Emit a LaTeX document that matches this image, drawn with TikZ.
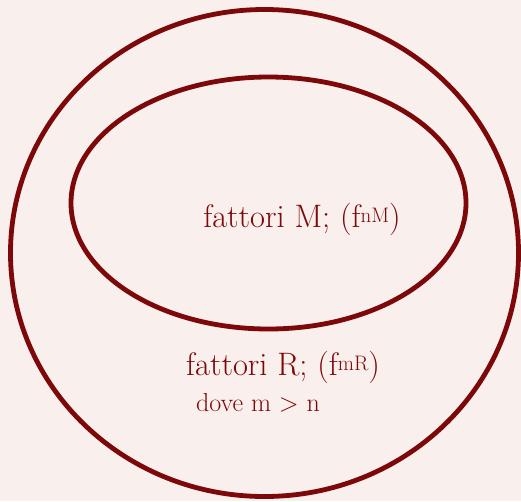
\documentclass[tikz,border=0pt]{standalone}
\usepackage{tikz}
\usetikzlibrary{shapes.geometric}
\definecolor{ringred}{RGB}{125,8,10}
\definecolor{bgpink}{RGB}{249,239,236}
\tikzset{
  ring/.style={draw=ringred, line width=4.8pt},
  label/.style={text=ringred, font=\fontsize{32.5}{36}\selectfont, inner sep=0pt, anchor=base},
  sublabel/.style={text=ringred, font=\fontsize{26}{30}\selectfont, inner sep=0pt, anchor=base}
}
\newcommand{\supx}[1]{\raisebox{5pt}{\fontsize{21}{24}\selectfont #1}}
\begin{document}
\begin{tikzpicture}[x=1pt,y=-1pt]
  \fill[bgpink] (0,0) rectangle (521,501);
  \useasboundingbox (0,0) rectangle (521,501);
  \node[ring, ellipse, minimum width=508pt, minimum height=487pt, inner sep=0pt] (outer) at (264.5,253) {};
  \node[ring, ellipse, minimum width=395pt, minimum height=252pt, inner sep=0pt] (inner) at (268.5,203) {};
  \node[label] (m) at (302,227) {fattori M; (f\supx{nM})};
  \node[label] (r) at (283,375) {fattori R; (f\supx{mR})};
  \node[sublabel] (d) at (258,411) {dove m > n};
\end{tikzpicture}
\end{document}
